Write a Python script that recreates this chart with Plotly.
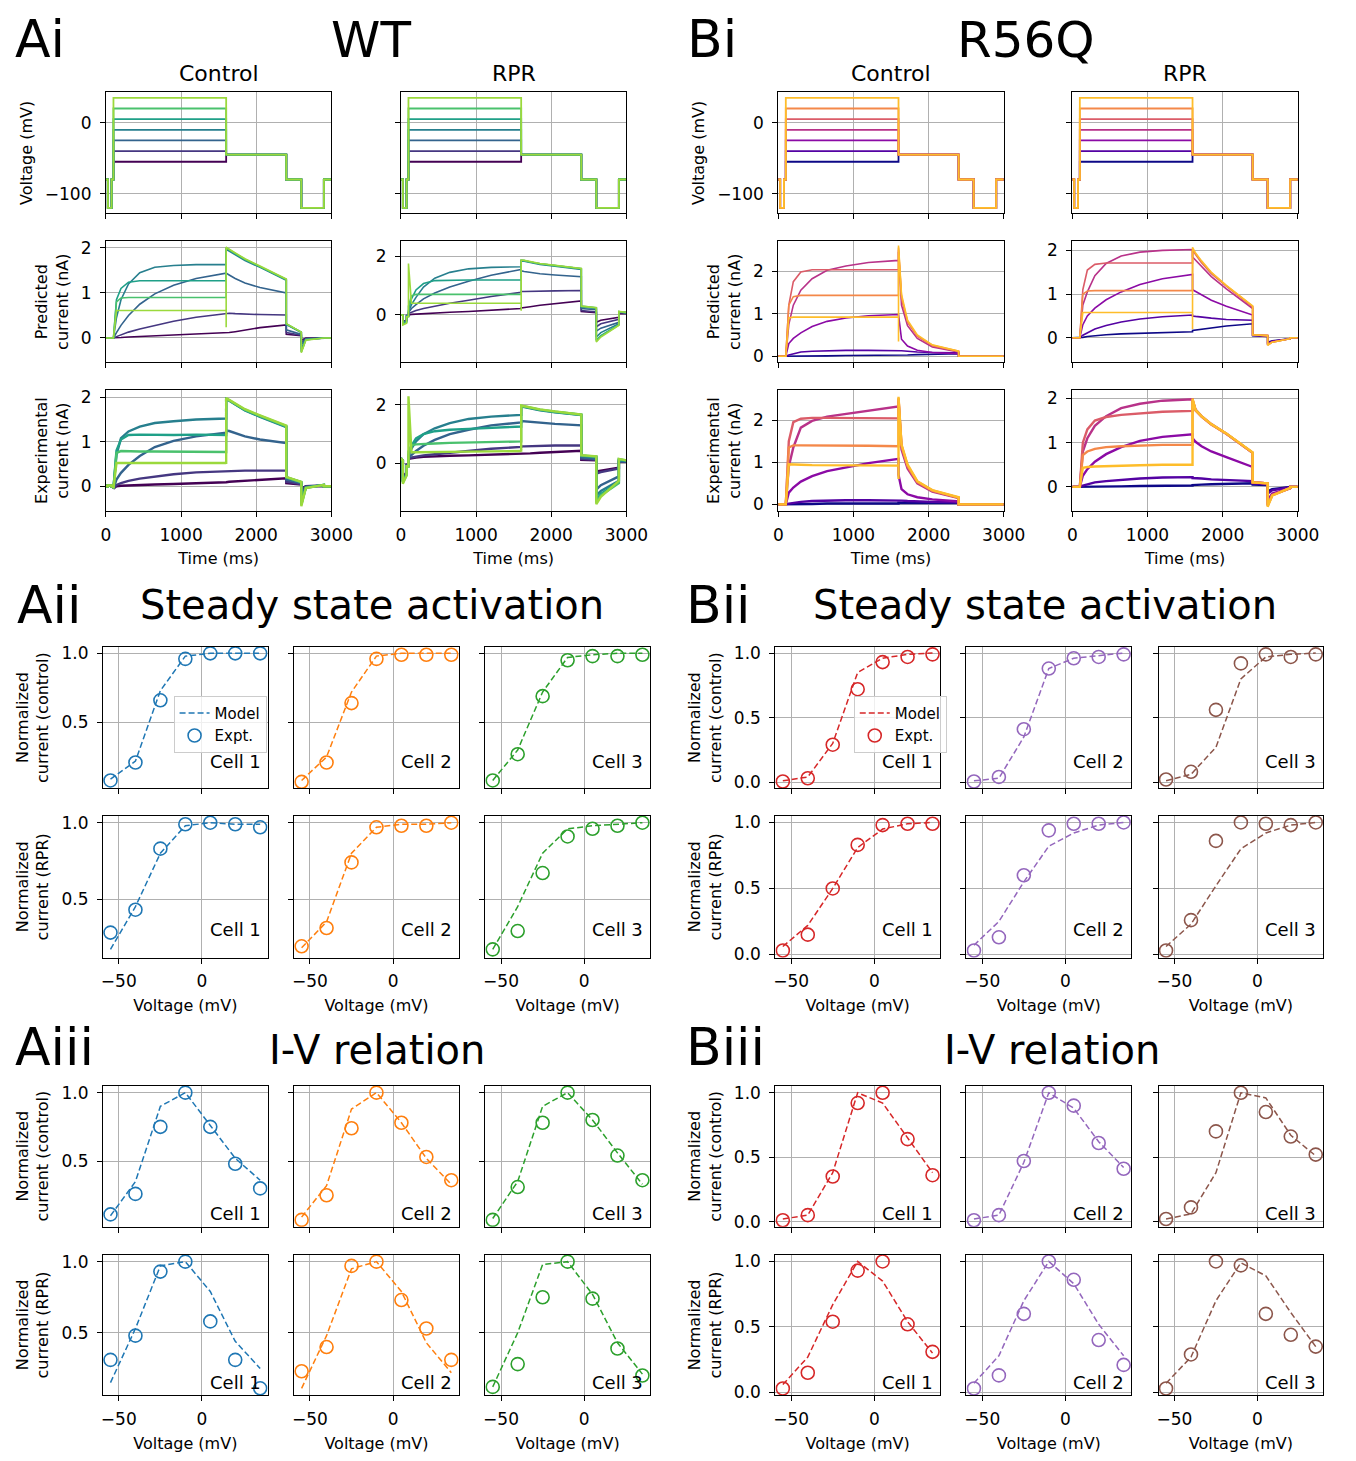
import plotly.graph_objects as go

W, H = 1356, 1461
FONT = "DejaVu Sans"

# ------------------------------------------------------------------ data
STEP_MV = [-55, -40, -25, -10, 5, 20, 35]

# voltage protocol (None = test step level)
PROTO_T = [0, 25, 25, 75, 75, 100, 100, 1600, 1600, 2400, 2400, 2600, 2600, 2900, 2900, 3000]
PROTO_V = [-80, -80, -120, -120, -80, -80, None, None, -45, -45, -80, -80, -120, -120, -80, -80]

TIME_MS = [0, 25, 25, 75, 75, 100, 100, 140, 200, 300, 450, 650, 900, 1200, 1600,
           1600, 1600, 1640, 1720, 1850, 2050, 2400, 2400, 2600, 2600, 2660, 2900, 2900, 3000]

WT_COLORS = ["#440154", "#453781", "#33638d", "#277f8e", "#1fa088", "#4ac16d", "#9bd93c"]
R56Q_COLORS = ["#0d0887", "#5402a3", "#8b0aa5", "#b83289", "#db5c68", "#f48849", "#febd2a"]

WT_PRED_CTRL = [
    [0, 0, 0, 0, 0, 0, 0, 0.0, 0.01, 0.02, 0.03, 0.04, 0.06, 0.08, 0.11, 0.11, 0.11, 0.12, 0.14, 0.18, 0.23, 0.29, 0.08, 0.05, -0.05, 0.0, 0, 0, 0],
    [0, 0, 0, 0, 0, 0, 0, 0.03, 0.07, 0.13, 0.2, 0.28, 0.37, 0.46, 0.55, 0.55, 0.55, 0.55, 0.54, 0.53, 0.52, 0.51, 0.12, 0.06, -0.1, -0.01, 0, 0, 0],
    [0, 0, 0, 0, 0, 0, 0, 0.12, 0.28, 0.5, 0.75, 0.98, 1.17, 1.32, 1.44, 1.44, 1.44, 1.4, 1.32, 1.22, 1.12, 1.0, 0.18, 0.08, -0.15, -0.02, 0, 0, 0],
    [0, 0, 0, 0, 0, 0, 0, 0.45, 0.85, 1.2, 1.45, 1.57, 1.61, 1.63, 1.63, 1.63, 1.97, 1.93, 1.85, 1.72, 1.57, 1.28, 0.3, 0.12, -0.25, -0.03, 0, 0, 0],
    [0, 0, 0, 0, 0, 0, 0, 0.85, 1.1, 1.24, 1.27, 1.27, 1.27, 1.27, 1.27, 1.27, 2.0, 1.95, 1.87, 1.74, 1.58, 1.3, 0.31, 0.13, -0.3, -0.04, 0, 0, 0],
    [0, 0, 0, 0, 0, 0, 0, 0.8, 0.89, 0.9, 0.9, 0.9, 0.9, 0.9, 0.9, 0.9, 2.01, 1.96, 1.88, 1.75, 1.59, 1.3, 0.31, 0.13, -0.31, -0.04, 0, 0, 0],
    [0, 0, 0, 0, 0, 0, 0, 0.61, 0.61, 0.61, 0.61, 0.61, 0.61, 0.61, 0.61, 0.24, 2.02, 1.97, 1.89, 1.76, 1.6, 1.31, 0.32, 0.13, -0.33, -0.05, 0, 0, 0],
]
WT_PRED_RPR = [
    [0, 0, -0.22, -0.18, -0.02, -0.02, 0.0, 0.02, 0.03, 0.05, 0.07, 0.09, 0.12, 0.16, 0.22, 0.22, 0.24, 0.26, 0.28, 0.33, 0.39, 0.48, 0.12, 0.08, -0.25, -0.18, -0.08, 0.05, 0.04],
    [0, 0, -0.24, -0.19, -0.02, -0.02, 0.05, 0.1, 0.15, 0.22, 0.3, 0.4, 0.5, 0.63, 0.77, 0.77, 0.8, 0.8, 0.8, 0.81, 0.82, 0.83, 0.15, 0.1, -0.4, -0.3, -0.15, 0.08, 0.06],
    [0, 0, -0.26, -0.2, -0.03, -0.03, 0.08, 0.22, 0.35, 0.55, 0.75, 0.95, 1.15, 1.35, 1.55, 1.55, 1.5, 1.48, 1.44, 1.4, 1.36, 1.3, 0.22, 0.18, -0.55, -0.45, -0.25, 0.1, 0.08],
    [0, 0, -0.28, -0.22, -0.04, -0.04, 0.1, 0.35, 0.6, 0.95, 1.25, 1.45, 1.57, 1.62, 1.64, 1.64, 1.84, 1.83, 1.78, 1.72, 1.66, 1.55, 0.27, 0.22, -0.75, -0.6, -0.3, 0.1, 0.08],
    [0, 0, -0.3, -0.24, -0.05, -0.05, 0.15, 0.55, 0.85, 1.07, 1.17, 1.19, 1.19, 1.19, 1.19, 1.19, 1.86, 1.85, 1.8, 1.74, 1.68, 1.57, 0.29, 0.24, -0.85, -0.7, -0.33, 0.11, 0.08],
    [0, 0, -0.32, -0.26, -0.05, -0.05, 0.3, 0.65, 0.7, 0.7, 0.7, 0.7, 0.7, 0.7, 0.7, 0.7, 1.86, 1.85, 1.8, 1.74, 1.68, 1.57, 0.3, 0.25, -0.88, -0.72, -0.34, 0.11, 0.08],
    [0, 0, -0.34, -0.28, -0.06, -0.06, 1.75, 0.4, 0.4, 0.4, 0.4, 0.4, 0.4, 0.4, 0.4, 0.14, 1.87, 1.86, 1.81, 1.75, 1.69, 1.58, 0.3, 0.25, -0.92, -0.75, -0.35, 0.12, 0.09],
]
WT_EXPT_CTRL = [
    [0, 0, 0.02, 0.02, 0, 0, -0.05, 0.0, 0.01, 0.02, 0.03, 0.04, 0.05, 0.06, 0.08, 0.08, 0.09, 0.1, 0.11, 0.12, 0.14, 0.18, 0.07, 0.04, -0.05, 0, 0, 0, 0],
    [0, 0, 0.02, 0.02, 0, 0, -0.05, 0.03, 0.07, 0.12, 0.17, 0.22, 0.27, 0.31, 0.34, 0.34, 0.34, 0.35, 0.35, 0.35, 0.35, 0.35, 0.1, 0.05, -0.1, 0, 0.02, 0, 0],
    [0, 0, 0.02, 0.02, 0, 0, -0.05, 0.15, 0.3, 0.48, 0.68, 0.88, 1.02, 1.12, 1.2, 1.2, 1.25, 1.24, 1.19, 1.12, 1.05, 0.97, 0.15, 0.07, -0.2, -0.02, 0.02, 0, 0],
    [0, 0, 0.02, 0.02, 0, 0, -0.05, 0.7, 1.08, 1.23, 1.34, 1.42, 1.46, 1.5, 1.52, 1.52, 1.95, 1.92, 1.83, 1.7, 1.56, 1.33, 0.2, 0.08, -0.35, -0.03, 0.03, 0, 0],
    [0, 0, 0.02, 0.02, 0, 0, -0.05, 0.8, 1.05, 1.15, 1.16, 1.15, 1.15, 1.16, 1.15, 1.15, 1.96, 1.93, 1.84, 1.71, 1.57, 1.34, 0.2, 0.09, -0.4, -0.03, 0.03, 0, 0],
    [0, 0, 0.02, 0.02, 0, 0, -0.05, 0.75, 0.79, 0.78, 0.78, 0.78, 0.78, 0.78, 0.77, 0.77, 1.97, 1.93, 1.85, 1.72, 1.58, 1.35, 0.2, 0.09, -0.42, -0.04, 0.03, 0, 0],
    [0, 0, 0.02, 0.02, 0, 0, -0.05, 0.52, 0.52, 0.52, 0.52, 0.52, 0.52, 0.52, 0.52, 0.5, 1.98, 1.94, 1.86, 1.73, 1.59, 1.36, 0.21, 0.1, -0.45, -0.04, 0.03, 0, 0],
]
WT_EXPT_RPR = [
    [0.17, 0.1, -0.5, -0.3, -0.05, -0.05, 0.15, 0.18, 0.2, 0.22, 0.24, 0.26, 0.27, 0.29, 0.32, 0.32, 0.33, 0.33, 0.34, 0.36, 0.38, 0.43, 0.12, 0.1, -0.28, -0.25, -0.15, 0.05, 0.05],
    [0.17, 0.1, -0.55, -0.33, -0.06, -0.06, 0.18, 0.2, 0.23, 0.27, 0.31, 0.36, 0.42, 0.5, 0.56, 0.56, 0.58, 0.58, 0.59, 0.6, 0.61, 0.61, 0.15, 0.12, -0.35, -0.3, -0.18, 0.05, 0.05],
    [0.17, 0.1, -0.6, -0.36, -0.08, -0.08, 0.2, 0.3, 0.42, 0.6, 0.8, 1.0, 1.15, 1.3, 1.4, 1.4, 1.45, 1.44, 1.42, 1.38, 1.35, 1.3, 0.2, 0.15, -0.9, -0.75, -0.45, 0.08, 0.07],
    [0.17, 0.1, -0.62, -0.38, -0.09, -0.09, 0.25, 0.5, 0.75, 1.0, 1.2, 1.38, 1.52, 1.6, 1.66, 1.66, 1.95, 1.93, 1.88, 1.82, 1.75, 1.65, 0.25, 0.2, -1.1, -0.95, -0.6, 0.1, 0.08],
    [0.17, 0.1, -0.64, -0.39, -0.1, -0.1, 0.3, 0.6, 0.85, 1.0, 1.1, 1.15, 1.18, 1.22, 1.26, 1.26, 1.96, 1.94, 1.89, 1.83, 1.76, 1.66, 0.26, 0.22, -1.25, -1.05, -0.65, 0.12, 0.1],
    [0.17, 0.1, -0.66, -0.4, -0.1, -0.1, 0.4, 0.62, 0.65, 0.67, 0.68, 0.7, 0.72, 0.73, 0.75, 0.75, 1.97, 1.95, 1.9, 1.84, 1.77, 1.67, 0.27, 0.23, -1.35, -1.1, -0.68, 0.14, 0.1],
    [0.17, 0.1, -0.7, -0.42, -0.1, -0.1, 2.3, 0.38, 0.38, 0.38, 0.39, 0.39, 0.4, 0.41, 0.42, 0.4, 1.98, 1.96, 1.91, 1.85, 1.78, 1.67, 0.28, 0.24, -1.4, -1.15, -0.6, 0.15, 0.1],
]
R56Q_PRED_CTRL = [
    [0, 0, 0, 0, 0, 0, 0, 0.0, 0.0, 0.01, 0.01, 0.01, 0.02, 0.02, 0.02, 0.02, 0.03, 0.03, 0.03, 0.04, 0.05, 0.06, 0, 0, 0, 0, 0, 0, 0],
    [0, 0, 0, 0, 0, 0, 0, 0.03, 0.06, 0.1, 0.12, 0.13, 0.14, 0.14, 0.14, 0.14, 0.14, 0.13, 0.12, 0.1, 0.09, 0.08, 0, 0, 0, 0, 0, 0, 0],
    [0, 0, 0, 0, 0, 0, 0, 0.3, 0.42, 0.55, 0.7, 0.82, 0.9, 0.95, 0.98, 0.98, 0.98, 0.4, 0.24, 0.14, 0.09, 0.06, 0, 0, 0, 0, 0, 0, 0],
    [0, 0, 0, 0, 0, 0, 0, 0.75, 1.2, 1.55, 1.82, 2.02, 2.12, 2.2, 2.25, 2.25, 2.45, 1.2, 0.72, 0.42, 0.22, 0.1, 0, 0, 0, 0, 0, 0, 0],
    [0, 0, 0, 0, 0, 0, 0, 1.2, 1.75, 1.98, 2.03, 2.03, 2.03, 2.03, 2.03, 2.03, 2.5, 1.35, 0.8, 0.47, 0.25, 0.11, 0, 0, 0, 0, 0, 0, 0],
    [0, 0, 0, 0, 0, 0, 0, 1.2, 1.4, 1.43, 1.43, 1.43, 1.43, 1.43, 1.43, 1.43, 2.55, 1.4, 0.82, 0.48, 0.26, 0.12, 0, 0, 0, 0, 0, 0, 0],
    [0, 0, 0, 0, 0, 0, 0, 0.9, 0.92, 0.92, 0.92, 0.92, 0.92, 0.92, 0.92, 0.35, 2.6, 1.45, 0.85, 0.5, 0.27, 0.12, 0, 0, 0, 0, 0, 0, 0],
]
R56Q_PRED_RPR = [
    [0, 0, 0, 0, 0, 0, 0, 0.01, 0.03, 0.05, 0.07, 0.09, 0.1, 0.12, 0.14, 0.14, 0.17, 0.18, 0.2, 0.23, 0.27, 0.32, 0.05, 0.03, -0.1, -0.07, -0.02, 0, 0],
    [0, 0, 0, 0, 0, 0, 0, 0.06, 0.12, 0.2, 0.28, 0.36, 0.43, 0.48, 0.52, 0.52, 0.5, 0.49, 0.47, 0.45, 0.42, 0.4, 0.06, 0.04, -0.12, -0.08, -0.02, 0, 0],
    [0, 0, 0, 0, 0, 0, 0, 0.3, 0.5, 0.68, 0.87, 1.05, 1.22, 1.35, 1.45, 1.45, 1.1, 1.06, 0.98, 0.86, 0.72, 0.52, 0.06, 0.04, -0.14, -0.09, -0.02, 0, 0],
    [0, 0, 0, 0, 0, 0, 0, 0.75, 1.05, 1.42, 1.7, 1.87, 1.96, 2.0, 2.02, 2.02, 1.85, 1.78, 1.62, 1.4, 1.12, 0.67, 0.07, 0.05, -0.15, -0.09, -0.02, 0, 0],
    [0, 0, 0, 0, 0, 0, 0, 1.1, 1.55, 1.68, 1.71, 1.71, 1.71, 1.71, 1.71, 1.71, 2.0, 1.9, 1.72, 1.47, 1.18, 0.71, 0.07, 0.05, -0.16, -0.1, -0.02, 0, 0],
    [0, 0, 0, 0, 0, 0, 0, 1.0, 1.07, 1.08, 1.08, 1.08, 1.08, 1.08, 1.08, 1.08, 2.02, 1.92, 1.74, 1.49, 1.19, 0.72, 0.07, 0.05, -0.16, -0.1, -0.02, 0, 0],
    [0, 0, 0, 0, 0, 0, 0, 0.58, 0.58, 0.58, 0.58, 0.58, 0.58, 0.58, 0.58, 0.2, 2.07, 1.94, 1.76, 1.5, 1.2, 0.73, 0.07, 0.05, -0.17, -0.1, -0.02, 0, 0],
]
R56Q_EXPT_CTRL = [
    [0, 0, 0, 0, 0, 0, 0, 0.0, 0.01, 0.01, 0.01, 0.02, 0.02, 0.02, 0.02, 0.02, 0.04, 0.04, 0.04, 0.03, 0.03, 0.03, 0, 0, 0, 0, 0, 0, 0],
    [0, 0, 0, 0, 0, 0, 0, 0.02, 0.04, 0.06, 0.08, 0.09, 0.1, 0.1, 0.1, 0.1, 0.1, 0.09, 0.08, 0.07, 0.06, 0.05, 0, 0, 0, 0, 0, 0, 0],
    [0, 0, 0, 0, 0, 0, 0, 0.28, 0.4, 0.54, 0.67, 0.79, 0.88, 0.98, 1.08, 1.08, 0.7, 0.36, 0.24, 0.17, 0.12, 0.07, 0, 0, 0, 0, 0, 0, 0],
    [0, 0, 0, 0, 0, 0, 0, 0.9, 1.35, 1.82, 1.98, 2.08, 2.14, 2.22, 2.32, 2.32, 2.45, 1.3, 0.85, 0.5, 0.3, 0.15, 0, 0, 0, 0, 0, 0, 0],
    [0, 0, 0, 0, 0, 0, 0, 1.5, 1.95, 2.03, 2.05, 2.05, 2.05, 2.05, 2.04, 2.04, 2.5, 1.38, 0.9, 0.53, 0.32, 0.16, 0, 0, 0, 0, 0, 0, 0],
    [0, 0, 0, 0, 0, 0, 0, 1.35, 1.4, 1.4, 1.4, 1.4, 1.4, 1.39, 1.38, 1.38, 2.52, 1.4, 0.92, 0.54, 0.33, 0.16, 0, 0, 0, 0, 0, 0, 0],
    [0, 0, 0, 0, 0, 0, 0, 0.95, 0.94, 0.94, 0.93, 0.93, 0.93, 0.92, 0.92, 0.6, 2.55, 1.42, 0.95, 0.55, 0.34, 0.17, 0, 0, 0, 0, 0, 0, 0],
]
R56Q_EXPT_RPR = [
    [0, 0, 0, 0, 0, 0, 0, 0.0, 0.0, 0.01, 0.01, 0.01, 0.02, 0.02, 0.03, 0.03, 0.04, 0.04, 0.05, 0.06, 0.07, 0.08, 0.05, 0.04, -0.1, -0.05, 0, 0, 0],
    [0, 0, 0, 0, 0, 0, 0, 0.03, 0.06, 0.1, 0.13, 0.16, 0.19, 0.21, 0.22, 0.22, 0.2, 0.2, 0.19, 0.17, 0.15, 0.13, 0.08, 0.06, -0.15, -0.08, -0.01, 0, 0],
    [0, 0, 0, 0, 0, 0, 0, 0.25, 0.4, 0.57, 0.74, 0.9, 1.04, 1.13, 1.19, 1.19, 1.1, 1.02, 0.92, 0.8, 0.67, 0.45, 0.1, 0.08, -0.3, -0.15, -0.03, 0, 0],
    [0, 0, 0, 0, 0, 0, 0, 0.8, 1.1, 1.38, 1.6, 1.78, 1.88, 1.95, 1.98, 1.98, 1.95, 1.75, 1.6, 1.42, 1.2, 0.77, 0.1, 0.08, -0.4, -0.18, -0.03, 0, 0],
    [0, 0, 0, 0, 0, 0, 0, 1.0, 1.3, 1.5, 1.58, 1.63, 1.66, 1.7, 1.72, 1.72, 1.97, 1.73, 1.59, 1.41, 1.2, 0.77, 0.1, 0.08, -0.42, -0.19, -0.03, 0, 0],
    [0, 0, 0, 0, 0, 0, 0, 0.72, 0.8, 0.86, 0.9, 0.92, 0.94, 0.95, 0.95, 0.95, 1.98, 1.73, 1.59, 1.41, 1.2, 0.77, 0.1, 0.08, -0.43, -0.19, -0.03, 0, 0],
    [0, 0, 0, 0, 0, 0, 0, 0.43, 0.45, 0.46, 0.47, 0.48, 0.49, 0.5, 0.5, 0.5, 2.0, 1.74, 1.6, 1.42, 1.21, 0.78, 0.1, 0.08, -0.45, -0.2, -0.02, 0, 0],
]

# steady-state activation (normalized), per cell
WT_SSA_CTRL_MODEL = [[0.09, 0.22, 0.73, 0.98, 1.0, 1.0, 1.0], [0.08, 0.25, 0.72, 0.98, 1.0, 1.0, 1.0], [0.08, 0.3, 0.72, 0.97, 0.99, 1.0, 1.0]]
WT_SSA_CTRL_EXPT = [[0.08, 0.21, 0.66, 0.96, 1.0, 1.0, 1.0], [0.07, 0.21, 0.64, 0.96, 0.99, 0.99, 0.99], [0.08, 0.27, 0.69, 0.95, 0.98, 0.98, 0.99]]
WT_SSA_RPR_MODEL = [[0.17, 0.45, 0.8, 0.98, 1.0, 0.99, 0.99], [0.18, 0.35, 0.8, 0.97, 0.99, 0.99, 1.0], [0.17, 0.45, 0.8, 0.96, 0.98, 0.99, 1.0]]
WT_SSA_RPR_EXPT = [[0.28, 0.43, 0.83, 0.99, 1.0, 0.99, 0.97], [0.19, 0.31, 0.74, 0.97, 0.98, 0.98, 1.0], [0.17, 0.29, 0.67, 0.91, 0.96, 0.98, 1.0]]
R56Q_SSA_CTRL_MODEL = [[0.01, 0.04, 0.3, 0.85, 0.96, 0.99, 1.0], [0.01, 0.03, 0.35, 0.88, 0.96, 0.98, 1.0], [0.01, 0.06, 0.27, 0.8, 0.97, 0.99, 1.0]]
R56Q_SSA_CTRL_EXPT = [[0.005, 0.03, 0.29, 0.72, 0.93, 0.97, 0.99], [0.005, 0.04, 0.41, 0.88, 0.96, 0.97, 0.99], [0.02, 0.08, 0.56, 0.92, 0.99, 0.97, 0.99]]
R56Q_SSA_RPR_MODEL = [[0.06, 0.22, 0.5, 0.81, 0.95, 0.99, 1.0], [0.07, 0.25, 0.55, 0.82, 0.92, 0.98, 1.0], [0.06, 0.23, 0.52, 0.8, 0.92, 0.98, 1.0]]
R56Q_SSA_RPR_EXPT = [[0.03, 0.15, 0.5, 0.83, 0.98, 0.99, 0.99], [0.03, 0.13, 0.6, 0.94, 0.99, 0.99, 1.0], [0.03, 0.26, 0.86, 1.0, 0.99, 0.98, 1.0]]

# I-V relation (normalized), per cell
WT_IV_CTRL_MODEL = [[0.1, 0.35, 0.9, 1.0, 0.76, 0.52, 0.36], [0.09, 0.32, 0.88, 1.0, 0.78, 0.52, 0.33], [0.08, 0.35, 0.9, 1.0, 0.8, 0.56, 0.33]]
WT_IV_CTRL_EXPT = [[0.11, 0.26, 0.75, 1.0, 0.75, 0.48, 0.3], [0.07, 0.25, 0.74, 1.0, 0.78, 0.53, 0.36], [0.07, 0.31, 0.78, 1.0, 0.8, 0.54, 0.36]]
WT_IV_RPR_MODEL = [[0.15, 0.53, 0.97, 1.0, 0.79, 0.44, 0.25], [0.11, 0.48, 0.95, 1.0, 0.79, 0.43, 0.22], [0.12, 0.5, 0.98, 1.0, 0.77, 0.43, 0.21]]
WT_IV_RPR_EXPT = [[0.31, 0.48, 0.93, 1.0, 0.58, 0.31, 0.11], [0.23, 0.4, 0.97, 1.0, 0.73, 0.53, 0.31], [0.12, 0.28, 0.75, 1.0, 0.74, 0.39, 0.2]]
R56Q_IV_CTRL_MODEL = [[0.02, 0.05, 0.38, 1.0, 0.92, 0.65, 0.38], [0.02, 0.05, 0.46, 1.0, 0.88, 0.62, 0.42], [0.02, 0.06, 0.38, 1.0, 0.96, 0.67, 0.51]]
R56Q_IV_CTRL_EXPT = [[0.01, 0.05, 0.35, 0.92, 1.0, 0.64, 0.36], [0.01, 0.05, 0.47, 1.0, 0.9, 0.61, 0.41], [0.02, 0.11, 0.7, 1.0, 0.85, 0.66, 0.52]]
R56Q_IV_RPR_MODEL = [[0.06, 0.27, 0.67, 1.0, 0.85, 0.54, 0.3], [0.07, 0.28, 0.7, 1.0, 0.83, 0.52, 0.28], [0.07, 0.27, 0.7, 0.99, 0.89, 0.61, 0.35]]
R56Q_IV_RPR_EXPT = [[0.03, 0.15, 0.54, 0.93, 1.0, 0.52, 0.31], [0.03, 0.13, 0.6, 1.0, 0.86, 0.4, 0.21], [0.03, 0.29, 1.0, 0.97, 0.6, 0.44, 0.35]]

WT_CELL_COLORS = ["#1f77b4", "#ff7f0e", "#2ca02c"]
R56Q_CELL_COLORS = ["#d62728", "#9467bd", "#8c564b"]
CELL_NAMES = ["Cell 1", "Cell 2", "Cell 3"]

# ------------------------------------------------------------------ helpers
fig = go.Figure()
layout = {}
annotations = []
counter = [0]

AX_STYLE = dict(showline=True, mirror=True, linecolor="black", linewidth=1.1,
                ticks="outside", ticklen=5, tickwidth=1.1, tickcolor="black",
                showgrid=True, gridcolor="#b0b0b0", gridwidth=1, zeroline=False,
                tickfont=dict(family=FONT, size=17, color="black"))
TITLE_FONT = dict(family=FONT, size=16, color="black")


def new_axes(xpx, ypx, xrng, yrng, xtv, ytv, xlab, ylab, xtitle=None, ytitle=None, yfmt=None):
    counter[0] += 1
    n = counter[0]
    s = "" if n == 1 else str(n)
    xa = dict(AX_STYLE, domain=[xpx[0] / W, xpx[1] / W], range=xrng, anchor="y" + s,
              tickmode="array", tickvals=xtv, showticklabels=xlab, ticklabelstandoff=3)
    ya = dict(AX_STYLE, domain=[1 - ypx[1] / H, 1 - ypx[0] / H], range=yrng, anchor="x" + s,
              tickmode="array", tickvals=ytv, showticklabels=ylab, ticklabelstandoff=5)
    if yfmt:
        ya["tickformat"] = yfmt
    if xtitle:
        xa["title"] = dict(text=xtitle, font=TITLE_FONT, standoff=9)
    if ytitle:
        ya["title"] = dict(text=ytitle, font=TITLE_FONT, standoff=8)
    layout["xaxis" + s] = xa
    layout["yaxis" + s] = ya
    return "x" + s, "y" + s


def text(x, y, s, size, xanchor="center", yanchor="middle"):
    annotations.append(dict(x=x / W, y=1 - y / H, xref="paper", yref="paper", text=s, showarrow=False,
                            xanchor=xanchor, yanchor=yanchor, font=dict(family=FONT, size=size, color="black")))


# ------------------------------------------------------------------ panels i (time courses)
ROW_V, ROW_P, ROW_E = (89, 211), (239, 361), (389, 511)
TIME_PANELS = [
    ((103, 333), WT_COLORS, WT_PRED_CTRL, WT_EXPT_CTRL, [-0.54, 2.15], [-0.56, 2.16], [0, 1, 2], [0, 1, 2], True),
    ((404, 634), WT_COLORS, WT_PRED_RPR, WT_EXPT_RPR, [-1.61, 2.51], [-1.64, 2.51], [0, 2], [0, 2], False),
    ((789, 1019), R56Q_COLORS, R56Q_PRED_CTRL, R56Q_EXPT_CTRL, [-0.14, 2.7], [-0.16, 2.71], [0, 1, 2], [0, 1, 2], True),
    ((1089, 1319), R56Q_COLORS, R56Q_PRED_RPR, R56Q_EXPT_RPR, [-0.56, 2.21], [-0.55, 2.19], [0, 1, 2], [0, 1, 2], False),
]
for xpx, cols, pred, expt, prng, erng, ptv, etv, first in TIME_PANELS:
    xa, ya = new_axes(xpx, ROW_V, [0, 3000], [-127.75, 42.75], [0, 1000, 2000, 3000], [-100, 0],
                      False, first, ytitle="Voltage (mV)" if first else None)
    for step, c in zip(STEP_MV, cols):
        fig.add_trace(go.Scatter(x=PROTO_T, y=[step if v is None else v for v in PROTO_V], mode="lines",
                                 line=dict(color=c, width=1.8), xaxis=xa, yaxis=ya,
                                 showlegend=False, hoverinfo="skip"))
    xa, ya = new_axes(xpx, ROW_P, [0, 3000], prng, [0, 1000, 2000, 3000], ptv,
                      False, True, ytitle="Predicted<br>current (nA)" if first else None)
    for tr, c in zip(pred, cols):
        fig.add_trace(go.Scatter(x=TIME_MS, y=tr, mode="lines", line=dict(color=c, width=1.6),
                                 xaxis=xa, yaxis=ya, showlegend=False, hoverinfo="skip"))
    xa, ya = new_axes(xpx, ROW_E, [0, 3000], erng, [0, 1000, 2000, 3000], etv,
                      True, True, xtitle="Time (ms)",
                      ytitle="Experimental<br>current (nA)" if first else None)
    for tr, c in zip(expt, cols):
        fig.add_trace(go.Scatter(x=TIME_MS, y=tr, mode="lines", line=dict(color=c, width=2.4),
                                 xaxis=xa, yaxis=ya, showlegend=False, hoverinfo="skip"))

# ------------------------------------------------------------------ panels ii / iii (summary)
A_COLS = [(100, 268), (295, 463), (490, 658)]
B_COLS = [(786, 954), (981, 1149), (1177, 1345)]
SUMMARY = [
    (A_COLS, WT_CELL_COLORS, [
        ((648, 790), [0.025, 1.045], [0.5, 1.0], "control", WT_SSA_CTRL_MODEL, WT_SSA_CTRL_EXPT, 27, "legend", False),
        ((818, 961), [0.115, 1.045], [0.5, 1.0], "RPR", WT_SSA_RPR_MODEL, WT_SSA_RPR_EXPT, 28, None, True),
        ((1090, 1232), [0.02, 1.05], [0.5, 1.0], "control", WT_IV_CTRL_MODEL, WT_IV_CTRL_EXPT, 13, None, False),
        ((1260, 1402), [0.06, 1.05], [0.5, 1.0], "RPR", WT_IV_RPR_MODEL, WT_IV_RPR_EXPT, 13, None, True)]),
    (B_COLS, R56Q_CELL_COLORS, [
        ((648, 790), [-0.046, 1.046], [0.0, 0.5, 1.0], "control", R56Q_SSA_CTRL_MODEL, R56Q_SSA_CTRL_EXPT, 27, "legend2", False),
        ((818, 961), [-0.025, 1.05], [0.0, 0.5, 1.0], "RPR", R56Q_SSA_RPR_MODEL, R56Q_SSA_RPR_EXPT, 28, None, True),
        ((1090, 1232), [-0.04, 1.054], [0.0, 0.5, 1.0], "control", R56Q_IV_CTRL_MODEL, R56Q_IV_CTRL_EXPT, 13, None, False),
        ((1260, 1402), [-0.023, 1.053], [0.0, 0.5, 1.0], "RPR", R56Q_IV_RPR_MODEL, R56Q_IV_RPR_EXPT, 13, None, True)]),
]
for cols_px, ccols, rows in SUMMARY:
    for ypx, yrng, ytv, cond, model, expt, off, leg, bottom in rows:
        for k in range(3):
            xa, ya = new_axes(cols_px[k], ypx, [-59.5, 39.5], yrng, [-50, 0], ytv,
                              bottom, k == 0, xtitle="Voltage (mV)" if bottom else None,
                              ytitle=("Normalized<br>current (%s)" % cond) if k == 0 else None, yfmt=".1f")
            show = leg is not None and k == 0
            fig.add_trace(go.Scatter(x=STEP_MV, y=model[k], mode="lines", name="Model",
                                     line=dict(color=ccols[k], width=1.5, dash="6px,3px"),
                                     xaxis=xa, yaxis=ya, showlegend=show, legend=leg or "legend",
                                     hoverinfo="skip"))
            fig.add_trace(go.Scatter(x=STEP_MV, y=expt[k], mode="markers", name="Expt.",
                                     marker=dict(symbol="circle-open", size=13, color=ccols[k],
                                                 line=dict(width=1.6, color=ccols[k])),
                                     xaxis=xa, yaxis=ya, showlegend=show, legend=leg or "legend",
                                     hoverinfo="skip"))
            text(cols_px[k][1] - 5, ypx[1] - off, CELL_NAMES[k], 18, xanchor="right")

# ------------------------------------------------------------------ headings
text(8, 35, "Ai", 52, xanchor="left")
text(373, 36, "WT", 50)
text(218, 70, "Control", 22)
text(519, 70, "RPR", 22)
text(694, 35, "Bi", 52, xanchor="left")
text(1042, 36, "R56Q", 50)
text(904, 70, "Control", 22)
text(1204, 70, "RPR", 22)
text(10, 606, "Aii", 52, xanchor="left")
text(374, 606, "Steady state activation", 40)
text(693, 606, "Bii", 52, xanchor="left")
text(1061, 606, "Steady state activation", 40)
text(8, 1051, "Aiii", 52, xanchor="left")
text(380, 1054, "I-V relation", 40)
text(693, 1051, "Biii", 52, xanchor="left")
text(1068, 1054, "I-V relation", 40)

LEG = dict(xanchor="left", yanchor="top", bordercolor="#cccccc", borderwidth=1,
           bgcolor="rgba(255,255,255,0.8)", font=dict(family=FONT, size=15, color="black"),
           itemwidth=30, tracegroupgap=0)
layout["legend"] = dict(LEG, x=172 / W, y=1 - 697 / H)
layout["legend2"] = dict(LEG, x=866 / W, y=1 - 697 / H)

fig.update_layout(**layout)
fig.update_layout(width=W, height=H, margin=dict(l=0, r=0, t=0, b=0),
                  paper_bgcolor="white", plot_bgcolor="white", showlegend=True,
                  annotations=annotations, font=dict(family=FONT, color="black"))
PAGE_CSS = ("var s=document.createElement('style');"
            "s.innerHTML='html,body{margin:0 !important;padding:0 !important;overflow:hidden !important;"
            "width:1356px;height:1461px;}';"
            "document.head.appendChild(s);")
fig.write_html("out.html", config={"displayModeBar": False}, post_script=PAGE_CSS)
